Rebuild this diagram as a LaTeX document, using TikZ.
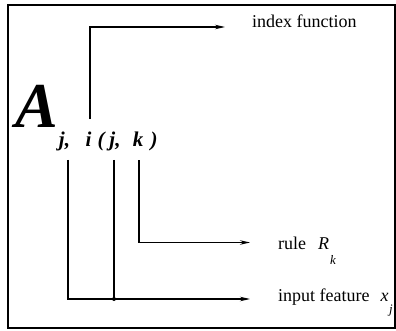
\documentclass[tikz,border=0pt]{standalone}
\usepackage{fontspec}
\setmainfont{Liberation Serif}
\usetikzlibrary{arrows.meta}

\begin{document}
\begin{tikzpicture}[x=1pt,y=-1pt,
    conn/.style={line width=1.2pt,>={Stealth[length=10pt,width=4.5pt]}},
    lbl/.style={anchor=base west,inner sep=0pt,font=\fontsize{18}{18}\selectfont},
    subch/.style={anchor=base,inner sep=0pt,font=\fontsize{21}{21}\selectfont\itshape\bfseries},
    dot/.style={circle,fill=black,inner sep=0pt,minimum size=4pt}]
    \useasboundingbox (0,0) rectangle (396,331);
    \draw[line width=2.4pt] (8,5) rectangle (395,328);
    % the symbol
    \node[anchor=base west,inner sep=0pt,font=\fontsize{64}{64}\selectfont\itshape\bfseries] (bigA) at (15.5,128) {A};
    \node[subch] (sj) at (64.5,147) {j,};
    \node[subch] (si) at (88.5,147) {i};
    \node[subch] (slp) at (101,147) {(};
    \node[subch] (sjj) at (115,147) {j,};
    \node[subch] (sk) at (138,147) {k};
    \node[subch] (srp) at (154,147) {)};
    % ends of the connectors
    \coordinate (itop) at ([xshift=1.5pt,yshift=13pt]si.north);
    \coordinate (j1foot) at (68,160);
    \coordinate (j2foot) at (114,160);
    \coordinate (kfoot) at ([xshift=1pt,yshift=-13pt]sk.south);
    \coordinate (idxtip) at (225,27);
    \coordinate (ruletip) at (250,242.5);
    \coordinate (feattip) at (250,299);
    % labels
    \node[lbl] (idx) at (252,28) {index function};
    \node[lbl] (rule) at (278,249.5) {rule\hspace{12pt}\textit{R}\hspace{1pt}\raisebox{-15pt}{\fontsize{13}{13}\selectfont\textit{k}}};
    \node[lbl] (feat) at (278,301.5) {input feature\hspace{11pt}\textit{x}\hspace{0.5pt}\raisebox{-12pt}{\fontsize{13}{13}\selectfont\textit{j}}};
    % connectors
    \draw[conn,->] (itop) |- (idxtip);
    \draw[conn,->] (kfoot) |- (ruletip);
    \draw[conn,->] (j1foot) |- (feattip);
    \draw[conn] (j2foot) -- (j2foot |- feattip) node[dot] (jct) {};
\end{tikzpicture}
\end{document}
